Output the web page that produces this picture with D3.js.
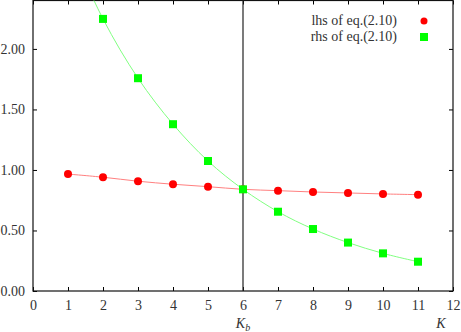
<!DOCTYPE html>
<html>
<head>
<meta charset="utf-8">
<script src="https://cdn.jsdelivr.net/npm/d3@7"></script>
<style>
  body { margin: 0; background: #fff; }
  text { font-family: "Liberation Serif", serif; font-size: 14px; fill: #333; }
</style>
</head>
<body>
<div id="chart"></div>
<script>
// values
var kValues = [1, 2, 3, 4, 5, 6, 7, 8, 9, 10, 11];
var lhsValues = [0.966, 0.940, 0.907, 0.882, 0.862, 0.840, 0.829, 0.818, 0.810, 0.802, 0.796];
var rhsValues = [2.88, 2.248, 1.758, 1.378, 1.074, 0.840, 0.655, 0.512, 0.400, 0.311, 0.242];
var xTickValues = [0, 1, 2, 3, 4, 5, 6, 7, 8, 9, 10, 11, 12];
var yTickValues = [0, 0.5, 1, 1.5, 2];
var kb = 6;
var legendLabels = ["lhs of eq.(2.10)", "rhs of eq.(2.10)"];

var width = 461, height = 332;
// note: "top" is reserved on window, so use plot* names
var plotLeft = 33, plotRight = 453, plotTop = 0.5, plotBottom = 291;

var svg = d3.select("#chart").append("svg")
    .attr("width", width)
    .attr("height", height);

var x = d3.scaleLinear().domain([0, 12]).range([plotLeft, plotRight]);
var y = d3.scaleLinear().domain([0, 2.4]).range([plotBottom, plotTop]);

svg.append("clipPath").attr("id", "clip")
  .append("rect")
    .attr("x", plotLeft).attr("y", plotTop)
    .attr("width", plotRight - plotLeft).attr("height", plotBottom - plotTop);

// ticks drawn inward on all four sides
svg.append("g")
    .attr("transform", "translate(0," + plotBottom + ")")
    .call(d3.axisBottom(x).tickValues(xTickValues).tickSize(-4).tickPadding(9).tickFormat(d3.format("d")))
    .call(g => g.select(".domain").remove())
    .call(g => g.selectAll("line").attr("stroke", "#000"));
svg.append("g")
    .attr("transform", "translate(0," + plotTop + ")")
    .call(d3.axisTop(x).tickValues(xTickValues).tickSize(-4).tickFormat(""))
    .call(g => g.select(".domain").remove())
    .call(g => g.selectAll("line").attr("stroke", "#000"));
svg.append("g")
    .attr("transform", "translate(" + plotLeft + ",0)")
    .call(d3.axisLeft(y).tickValues(yTickValues).tickSize(-4).tickPadding(8).tickFormat(d3.format(".2f")))
    .call(g => g.select(".domain").remove())
    .call(g => g.selectAll("line").attr("stroke", "#000"));
svg.append("g")
    .attr("transform", "translate(" + plotRight + ",0)")
    .call(d3.axisRight(y).tickValues(yTickValues).tickSize(-4).tickFormat(""))
    .call(g => g.select(".domain").remove())
    .call(g => g.selectAll("line").attr("stroke", "#000"));

svg.selectAll(".tick text")
    .style("font-family", "Liberation Serif, serif")
    .style("font-size", "14px")
    .attr("fill", "#333");

// frame
svg.append("rect")
    .attr("x", plotLeft).attr("y", plotTop)
    .attr("width", plotRight - plotLeft).attr("height", plotBottom - plotTop)
    .attr("fill", "none")
    .attr("stroke", "#111")
    .attr("stroke-width", 1.2);

// vertical line at K_b
svg.append("line")
    .attr("x1", x(kb)).attr("x2", x(kb))
    .attr("y1", plotTop).attr("y2", plotBottom)
    .attr("stroke", "#222")
    .attr("stroke-width", 1.2);

var plot = svg.append("g").attr("clip-path", "url(#clip)");

var line = d3.line()
    .x(function(d, i) { return x(kValues[i]); })
    .y(function(d) { return y(d); })
    .curve(d3.curveCatmullRom);

plot.append("path")
    .datum(lhsValues)
    .attr("d", line)
    .attr("fill", "none")
    .attr("stroke", "#ff8080")
    .attr("stroke-width", 1);

plot.append("path")
    .datum(rhsValues)
    .attr("d", line)
    .attr("fill", "none")
    .attr("stroke", "#80ff80")
    .attr("stroke-width", 1);

plot.selectAll(".lhs")
    .data(lhsValues)
    .enter().append("circle")
    .attr("class", "lhs")
    .attr("cx", function(d, i) { return x(kValues[i]); })
    .attr("cy", function(d) { return y(d); })
    .attr("r", 4)
    .attr("fill", "#ff0000");

plot.selectAll(".rhs")
    .data(rhsValues)
    .enter().append("rect")
    .attr("class", "rhs")
    .attr("x", function(d, i) { return x(kValues[i]) - 4; })
    .attr("y", function(d) { return y(d) - 4; })
    .attr("width", 8)
    .attr("height", 8)
    .attr("fill", "#00ff00");

// legend
var legend = svg.append("g");
legend.selectAll("text")
    .data(legendLabels)
    .enter().append("text")
    .attr("x", 397)
    .attr("y", function(d, i) { return 25 + i * 16; })
    .attr("text-anchor", "end")
    .text(function(d) { return d; });
legend.append("circle")
    .attr("cx", 424).attr("cy", 21).attr("r", 3.5)
    .attr("fill", "#ff0000");
legend.append("rect")
    .attr("x", 420).attr("y", 33).attr("width", 8).attr("height", 8)
    .attr("fill", "#00ff00");

// axis labels
var kbLabel = svg.append("text")
    .attr("x", x(kb)).attr("y", 328)
    .attr("text-anchor", "middle")
    .style("font-style", "italic");
kbLabel.append("tspan").text("K");
kbLabel.append("tspan").attr("dy", 3).style("font-size", "10px").text("b");

svg.append("text")
    .attr("x", 441).attr("y", 328)
    .attr("text-anchor", "middle")
    .style("font-style", "italic")
    .text("K");
</script>
</body>
</html>
